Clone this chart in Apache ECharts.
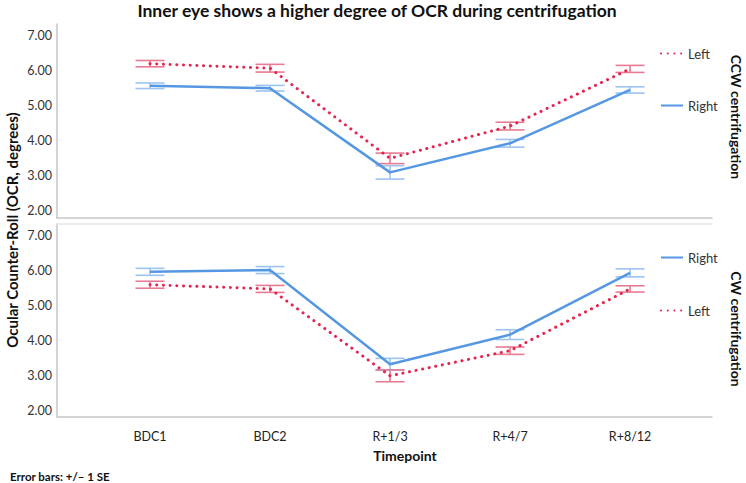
<!DOCTYPE html>
<html>
<head>
<meta charset="utf-8">
<script src="https://cdn.jsdelivr.net/npm/echarts@6/dist/echarts.min.js"></script>
<style>html,body{margin:0;padding:0;background:#fff}#c{width:746px;height:483px}</style>
</head>
<body>
<div id="c"></div>
<script>
// ---- data ----
const categories = ['BDC1', 'BDC2', 'R+1/3', 'R+4/7', 'R+8/12'];
const yTicks = [2, 3, 4, 5, 6, 7];
// CCW centrifugation (top panel)
const ccwLeft = [6.20, 6.07, 3.50, 4.42, 6.05];
const ccwLeftSE = [0.09, 0.11, 0.15, 0.11, 0.10];
const ccwRight = [5.57, 5.50, 3.10, 3.93, 5.45];
const ccwRightSE = [0.08, 0.08, 0.19, 0.11, 0.09];
// CW centrifugation (bottom panel)
const cwRight = [5.96, 6.01, 3.31, 4.16, 5.93];
const cwRightSE = [0.10, 0.10, 0.17, 0.14, 0.115];
const cwLeft = [5.59, 5.47, 2.98, 3.70, 5.47];
const cwLeftSE = [0.10, 0.10, 0.17, 0.105, 0.09];

const FONT = 'Lato';
const RED = '#e3264f', RED_BAR = '#e87a92';
const BLUE = '#5597e2', BLUE_BAR = '#9cc4ef';
const AXIS = '#c6c6c6';

function pts(arr) { return arr.map((v, i) => [i, v]); }
function errPts(arr, se) { return arr.map((v, i) => [i, v, se[i]]); }

function errRender(color) {
  return function (params, api) {
    const x = api.value(0), m = api.value(1), s = api.value(2);
    const hi = api.coord([x, m + s]);
    const lo = api.coord([x, m - s]);
    const hw = 14.5;
    const st = { stroke: color, lineWidth: 1.6 };
    return {
      type: 'group',
      children: [
        { type: 'line', shape: { x1: hi[0], y1: hi[1], x2: lo[0], y2: lo[1] }, style: st },
        { type: 'line', shape: { x1: hi[0] - hw, y1: hi[1], x2: hi[0] + hw, y2: hi[1] }, style: st },
        { type: 'line', shape: { x1: lo[0] - hw, y1: lo[1], x2: lo[0] + hw, y2: lo[1] }, style: st }
      ]
    };
  };
}

const xMin = -0.775, xMax = 4.683;
function xAxis(gi, showLabels, pos, color) {
  return {
    type: 'value', gridIndex: gi, min: xMin, max: xMax, position: pos,
    axisLine: { show: true, onZero: false, lineStyle: { color: color, width: 1.5 } },
    axisTick: { show: false },
    splitLine: { show: false },
    axisLabel: {
      show: showLabels, customValues: [0, 1, 2, 3, 4],
      formatter: v => categories[Math.round(v)] || '',
      fontFamily: FONT, fontSize: 12.5, color: '#222', margin: 13
    }
  };
}
function yAxis(gi) {
  return {
    type: 'value', gridIndex: gi, min: 1.8, max: 7.33,
    axisLine: { show: true, onZero: false, lineStyle: { color: AXIS, width: 1.5 } },
    axisTick: { show: false },
    splitLine: { show: false },
    axisLabel: {
      customValues: yTicks, formatter: v => v.toFixed(2),
      fontFamily: FONT, fontSize: 12.5, color: '#333', margin: 5
    }
  };
}
function lineSeries(name, data, xi, color, dotted) {
  return {
    type: 'line', name, data: pts(data), xAxisIndex: xi, yAxisIndex: xi,
    symbol: 'none', z: 3,
    lineStyle: dotted
      ? { color, width: 3, type: [0.1, 6.6], cap: 'round' }
      : { color, width: 2.5 },
    itemStyle: { color }
  };
}
function errSeries(name, data, se, xi, color) {
  return {
    type: 'custom', name: name + ' SE', data: errPts(data, se),
    xAxisIndex: xi, yAxisIndex: xi, renderItem: errRender(color), z: 2,
    encode: { x: 0, y: 1 }
  };
}

const legendText = { fontFamily: FONT, fontSize: 13, color: '#333' };
const legendBase = {
  orient: 'vertical', left: 655, itemWidth: 22, itemHeight: 14,
  textStyle: legendText, selectedMode: false,
  itemStyle: { opacity: 0 }
};

const option = {
  animation: false,
  backgroundColor: '#fff',
  title: {
    text: 'Inner eye shows a higher degree of OCR during centrifugation',
    left: 372, top: 1, padding: [0, 5], textAlign: 'center',
    textStyle: { fontFamily: FONT, fontWeight: 'bold', fontSize: 17.5, color: '#111' }
  },
  grid: [
    { left: 57, width: 655, top: 24, height: 194 },
    { left: 57, width: 655, top: 224, height: 193 }
  ],
  xAxis: [xAxis(0, false, 'bottom', AXIS), xAxis(1, true, 'bottom', AXIS), xAxis(1, false, 'top', '#e6e6e6')],
  yAxis: [yAxis(0), yAxis(1)],
  legend: [
    Object.assign({ data: ['Left', 'Right'], top: 42, itemGap: 39 }, legendBase),
    Object.assign({ data: ['Right', 'Left'], top: 246, itemGap: 40 }, legendBase)
  ],
  graphic: [
    { type: 'text', x: 12, y: 230, rotation: Math.PI / 2,
      style: { text: 'Ocular Counter-Roll (OCR, degrees)', fontFamily: FONT, fontWeight: 'bold',
        fontSize: 15, fill: '#111', align: 'center', verticalAlign: 'middle' } },
    { type: 'text', x: 736, y: 117, rotation: -Math.PI / 2,
      style: { text: 'CCW centrifugation', fontFamily: FONT, fontWeight: 'bold',
        fontSize: 14, fill: '#111', align: 'center', verticalAlign: 'middle' } },
    { type: 'text', x: 736, y: 329, rotation: -Math.PI / 2,
      style: { text: 'CW centrifugation', fontFamily: FONT, fontWeight: 'bold',
        fontSize: 14, fill: '#111', align: 'center', verticalAlign: 'middle' } },
    { type: 'text', x: 405, y: 455,
      style: { text: 'Timepoint', fontFamily: FONT, fontWeight: 'bold',
        fontSize: 14, fill: '#111', align: 'center', verticalAlign: 'middle' } },
    { type: 'text', x: 10, y: 476,
      style: { text: 'Error bars: +/\u2013 1 SE', fontFamily: FONT, fontWeight: 'bold',
        fontSize: 11.5, fill: '#111', align: 'left', verticalAlign: 'middle' } }
  ],
  series: [
    errSeries('Left', ccwLeft, ccwLeftSE, 0, RED_BAR),
    errSeries('Right', ccwRight, ccwRightSE, 0, BLUE_BAR),
    lineSeries('Left', ccwLeft, 0, RED, true),
    lineSeries('Right', ccwRight, 0, BLUE, false),
    errSeries('Right', cwRight, cwRightSE, 1, BLUE_BAR),
    errSeries('Left', cwLeft, cwLeftSE, 1, RED_BAR),
    lineSeries('Right', cwRight, 1, BLUE, false),
    lineSeries('Left', cwLeft, 1, RED, true)
  ]
};
const chart = echarts.init(document.getElementById('c'), null, { renderer: 'svg' });
chart.setOption(option);
</script>
</body>
</html>
